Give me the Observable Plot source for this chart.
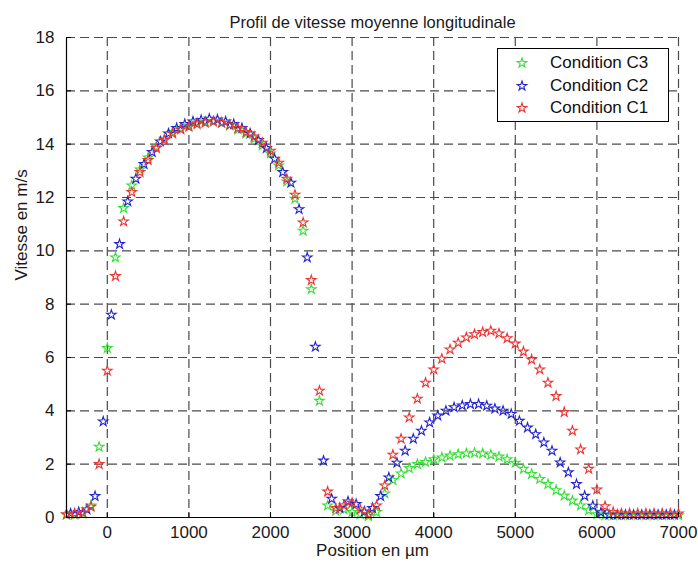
<!DOCTYPE html>
<html><head><meta charset="utf-8">
<script src="https://cdn.jsdelivr.net/npm/d3@7"></script>
<script src="https://cdn.jsdelivr.net/npm/@observablehq/plot@0.6"></script>
<style>
body{margin:0;background:#fff;font-family:"Liberation Sans",Arial,sans-serif;}
#wrap{position:relative;width:698px;height:568px;}
#legend{position:absolute;left:497px;top:48px;width:172px;height:74px;border:1px solid #000;background:#fff;box-sizing:border-box;}
.row{position:absolute;left:0;height:22px;display:flex;align-items:center;font-size:17px;color:#111;}
.row svg{margin-left:17px;margin-right:21px;}
</style></head><body><div id="wrap"></div>
<script>
const title = "Profil de vitesse moyenne longitudinale";
const xLabel = "Position en µm";
const yLabel = "Vitesse en m/s";
const xTicks = [0, 1000, 2000, 3000, 4000, 5000, 6000, 7000];
const yTicks = [0, 2, 4, 6, 8, 10, 12, 14, 16, 18];
const seriesNames = ["Condition C3", "Condition C2", "Condition C1"];
const seriesColors = ["#35e035", "#2424d0", "#ee3333"];

// positions of C1 and C3 samples (µm)
const xC1C3 = [-500,-400,-300,-200,-100,0,100,200,300,400,500,600,700,800,900,1000,1100,1200,1300,1400,1500,1600,1700,1800,1900,2000,2100,2200,2300,2400,2500,2600,2700,2800,2900,3000,3100,3200,3300,3400,3500,3600,3700,3800,3900,4000,4100,4200,4300,4400,4500,4600,4700,4800,4900,5000,5100,5200,5300,5400,5500,5600,5700,5800,5900,6000,6100,6200,6300,6400,6500,6600,6700,6800,6900,7000];
// positions of C2 samples (µm)
const xC2 = [-450,-350,-250,-150,-50,50,150,250,350,450,550,650,750,850,950,1050,1150,1250,1350,1450,1550,1650,1750,1850,1950,2050,2150,2250,2350,2450,2550,2650,2750,2850,2950,3050,3150,3250,3350,3450,3550,3650,3750,3850,3950,4050,4150,4250,4350,4450,4550,4650,4750,4850,4950,5050,5150,5250,5350,5450,5550,5650,5750,5850,5950,6050,6150,6250,6350,6450,6550,6650,6750,6850,6950];

const vC1 = [0.12,0.15,0.18,0.4,2.0,5.5,9.05,11.1,12.2,12.95,13.4,13.85,14.15,14.4,14.55,14.65,14.75,14.8,14.85,14.8,14.72,14.6,14.45,14.28,14.05,13.75,13.3,12.7,12.1,11.06,8.9,4.75,0.97,0.35,0.45,0.55,0.3,0.12,0.45,1.2,2.35,2.95,3.75,4.45,5.05,5.55,5.95,6.3,6.55,6.75,6.87,6.95,7.0,6.9,6.72,6.52,6.22,5.92,5.55,5.05,4.55,3.95,3.25,2.55,1.82,1.05,0.42,0.2,0.15,0.15,0.15,0.15,0.15,0.15,0.15,0.15];
const vC3 = [0.1,0.1,0.15,0.45,2.65,6.35,9.75,11.6,12.45,13.05,13.5,13.9,14.2,14.45,14.6,14.7,14.8,14.85,14.85,14.8,14.7,14.55,14.4,14.2,13.95,13.65,13.2,12.6,11.95,10.75,8.56,4.37,0.45,0.25,0.3,0.2,0.12,0.05,0.2,0.9,1.4,1.65,1.85,2.0,2.08,2.18,2.25,2.32,2.37,2.4,2.42,2.4,2.35,2.28,2.18,2.05,1.82,1.63,1.44,1.25,1.02,0.82,0.63,0.45,0.27,0.12,0.08,0.08,0.08,0.08,0.08,0.08,0.08,0.08,0.08,0.08];
const vC2 = [0.15,0.2,0.3,0.8,3.6,7.6,10.25,11.85,12.7,13.25,13.7,14.1,14.4,14.6,14.75,14.85,14.9,14.95,14.92,14.85,14.75,14.6,14.4,14.15,13.85,13.45,12.95,12.55,11.56,9.75,6.4,2.13,0.7,0.35,0.6,0.5,0.22,0.35,0.8,1.5,2.05,2.5,2.95,3.25,3.56,3.82,4.0,4.13,4.2,4.25,4.25,4.19,4.08,4.0,3.88,3.62,3.37,3.12,2.81,2.5,2.06,1.69,1.25,0.81,0.44,0.19,0.1,0.1,0.1,0.1,0.1,0.1,0.1,0.1,0.1];

const c3 = xC1C3.map((x, i) => ({x, v: vC3[i]}));
const c2 = xC2.map((x, i) => ({x, v: vC2[i]}));
const c1 = xC1C3.map((x, i) => ({x, v: vC1[i]}));

const W = 698, H = 568, mL = 66, mR = 20, mT = 37, mB = 51;
const gridStyle = {stroke: "#4a4a4a", strokeOpacity: 1, strokeWidth: 1.2, strokeDasharray: "9,5"};
const R = 3.0;
const starOpts = (color) => ({x: "x", y: "v", symbol: "star", r: R, stroke: color, fill: "none", strokeWidth: 1.1});

const chart = Plot.plot({
  width: W, height: H,
  marginLeft: mL, marginRight: mR, marginTop: mT, marginBottom: mB,
  style: {fontFamily: "'Liberation Sans', Arial, sans-serif", fontSize: "17px", color: "#1a1a1a", background: "#fff"},
  x: {domain: [-500, 7000]},
  y: {domain: [0, 18]},
  marks: [
    Plot.gridX(xTicks, gridStyle),
    Plot.gridY(yTicks.filter(d => d > 0), gridStyle),
    Plot.dot(c3, starOpts(seriesColors[0])),
    Plot.dot(c2, starOpts(seriesColors[1])),
    Plot.dot(c1, starOpts(seriesColors[2])),
    Plot.ruleY([0], {stroke: "#000", strokeWidth: 1.2}),
    Plot.ruleX([-500], {stroke: "#000", strokeWidth: 1.2}),
    Plot.tickX(xTicks, {x: d => d, insetTop: H - mT - mB - 5, stroke: "#000"}),
    Plot.tickY(yTicks, {y: d => d, insetRight: W - mL - mR - 5, stroke: "#000"}),
    Plot.axisX(xTicks, {tickSize: 0, tickPadding: 8, tickFormat: d => String(d), label: null}),
    Plot.axisY(yTicks, {tickSize: 0, tickPadding: 12, tickFormat: d => String(d), label: null}),
    Plot.text([xLabel], {frameAnchor: "bottom", dy: 38, fontSize: 17, fill: "#1a1a1a"}),
    Plot.text([yLabel], {frameAnchor: "left", dx: -45, dy: 3, rotate: -90, fontSize: 17, fill: "#1a1a1a"}),
    Plot.text([title], {frameAnchor: "top", dy: -21, fontSize: 16.5, fill: "#1a1a1a"})
  ]
});
const wrap = document.getElementById("wrap");
wrap.appendChild(chart);

// legend
const legend = document.createElement("div");
legend.id = "legend";
const star = d3.symbol(d3.symbolStar, Math.PI * R * R);
seriesNames.forEach((name, i) => {
  const row = document.createElement("div");
  row.className = "row";
  row.style.top = (3 + i * 22.5) + "px";
  row.innerHTML = `<svg width="14" height="14" viewBox="-7 -7 14 14"><path d="${star()}" fill="none" stroke="${seriesColors[i]}" stroke-width="1.1"/></svg><span>${name}</span>`;
  legend.appendChild(row);
});
wrap.appendChild(legend);
</script>
</body></html>
